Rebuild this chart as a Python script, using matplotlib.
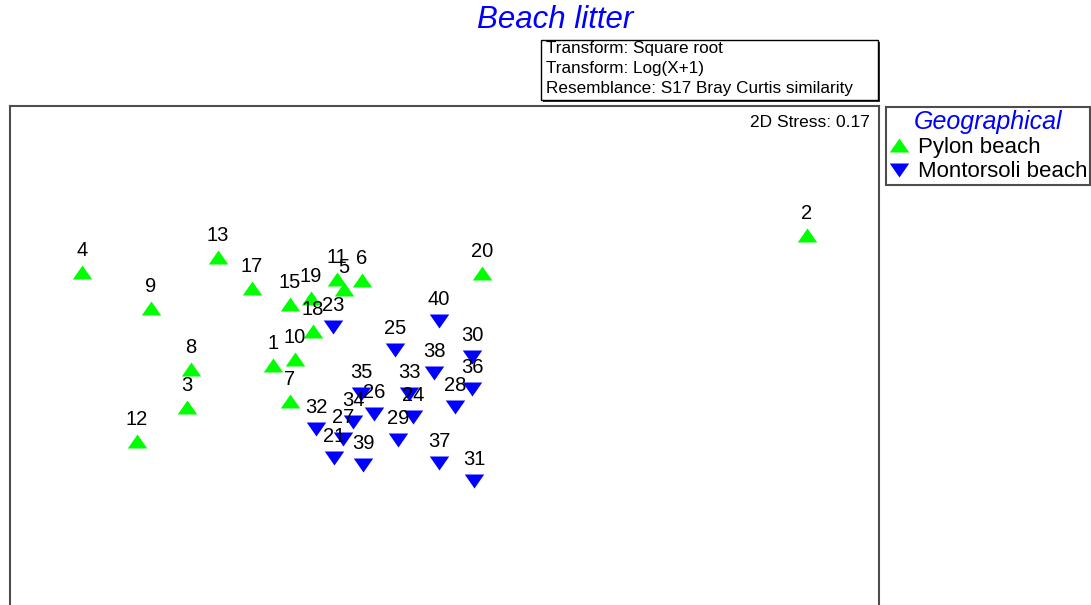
import matplotlib
matplotlib.use("Agg")
import matplotlib.pyplot as plt
from matplotlib.lines import Line2D
from matplotlib.patches import Rectangle

plt.rcParams["font.family"] = ["Liberation Sans", "DejaVu Sans"]

W, H = 1091, 605

# nMDS coordinates
pylon_ids = [1, 2, 3, 4, 5, 6, 7, 8, 9, 10, 11, 12, 13, 15, 17, 18, 19, 20]
pylon_x = [-1.67, 3.67, -2.53, -3.58, -0.96, -0.78, -1.50, -2.49, -2.89, -1.45,
           -1.03, -3.03, -2.22, -1.50, -1.88, -1.27, -1.29, 0.42]
pylon_y = [0.25, 1.55, -0.17, 1.18, 1.01, 1.10, -0.11, 0.21, 0.82, 0.31,
           1.11, -0.51, 1.33, 0.86, 1.02, 0.59, 0.92, 1.17]

mont_ids = [21, 23, 24, 25, 26, 27, 28, 29, 30, 31, 32, 33, 34, 35, 36, 37, 38, 39, 40]
mont_x = [-1.06, -1.07, -0.27, -0.45, -0.66, -0.97, 0.15, -0.42, 0.32, 0.34,
          -1.24, -0.31, -0.87, -0.79, 0.32, -0.01, -0.06, -0.77, -0.01]
mont_y = [-0.68, 0.63, -0.27, 0.40, -0.24, -0.49, -0.17, -0.50, 0.33, -0.91,
          -0.39, -0.04, -0.32, -0.04, 0.01, -0.73, 0.17, -0.75, 0.69]

groups = ["Pylon beach", "Montorsoli beach"]
notes = ["Transform: Square root", "Transform: Log(X+1)",
         "Resemblance: S17 Bray Curtis similarity"]

UP = [(-1, -0.72), (1, -0.72), (0, 0.72)]
DOWN = [(-1, 0.72), (1, 0.72), (0, -0.72)]
GREEN = "#00ff00"
BLUE = "#0000ff"
FRAME = "#4d4d4d"
MS = 14


def fx(px):
    return px / W


def fy(py):
    return 1 - py / H


fig = plt.figure(figsize=(W / 100, H / 100), dpi=100)

# plot frame runs off the bottom of the picture
ax = fig.add_axes([fx(10), -0.1, fx(879) - fx(10), fy(106) + 0.1])
ax.set_xlim(-4.30, 4.39)
ax.set_ylim(-2.755, 2.84)
ax.set_xticks([])
ax.set_yticks([])
for s in ax.spines.values():
    s.set_color(FRAME)
    s.set_linewidth(1.5)

ax.plot(pylon_x, pylon_y, ls="none", marker=UP, ms=MS, mew=0, color=GREEN)
ax.plot(mont_x, mont_y, ls="none", marker=DOWN, ms=MS, mew=0, color=BLUE)

for i, x, y in list(zip(pylon_ids, pylon_x, pylon_y)) + list(zip(mont_ids, mont_x, mont_y)):
    ax.annotate(str(i), (x, y), xytext=(0, 16), textcoords="offset pixels",
                ha="center", va="baseline", fontsize=14.5)

ax.text(0.989, 0.971, "2D Stress: 0.17", transform=ax.transAxes,
        ha="right", va="center", fontsize=12.5)

fig.text(fx(555), fy(20), "Beach litter", ha="center", va="center",
         fontsize=22.5, style="italic", color=BLUE)

# transform / resemblance box with a small shadow
fig.patches.append(Rectangle((fx(543), fy(102)), fx(337), 60 / H, transform=fig.transFigure,
                             facecolor="#333333", edgecolor="none", zorder=1))
fig.patches.append(Rectangle((fx(541), fy(100)), fx(337), 60 / H, transform=fig.transFigure,
                             facecolor="white", edgecolor="black", lw=1, zorder=2))
for k, t in enumerate(notes):
    fig.text(fx(546), fy(49 + 19.5 * k), t, ha="left", va="center", fontsize=12.3, zorder=3)

handles = [Line2D([], [], ls="none", marker=UP, ms=MS, mew=0, color=GREEN),
           Line2D([], [], ls="none", marker=DOWN, ms=MS, mew=0, color=BLUE)]
leg = fig.legend(handles, groups, loc="upper left", bbox_to_anchor=(fx(886), fy(107)),
                 fontsize=16, title="Geographical",
                 title_fontproperties={"size": 18, "style": "italic"},
                 frameon=True, fancybox=False, edgecolor=FRAME, framealpha=1,
                 borderpad=0.12, handlelength=0.9, handletextpad=0.4,
                 labelspacing=0.15, borderaxespad=0)
leg.get_title().set_color(BLUE)
leg.get_frame().set_linewidth(1.5)

fig.savefig("out.png", dpi=100)
